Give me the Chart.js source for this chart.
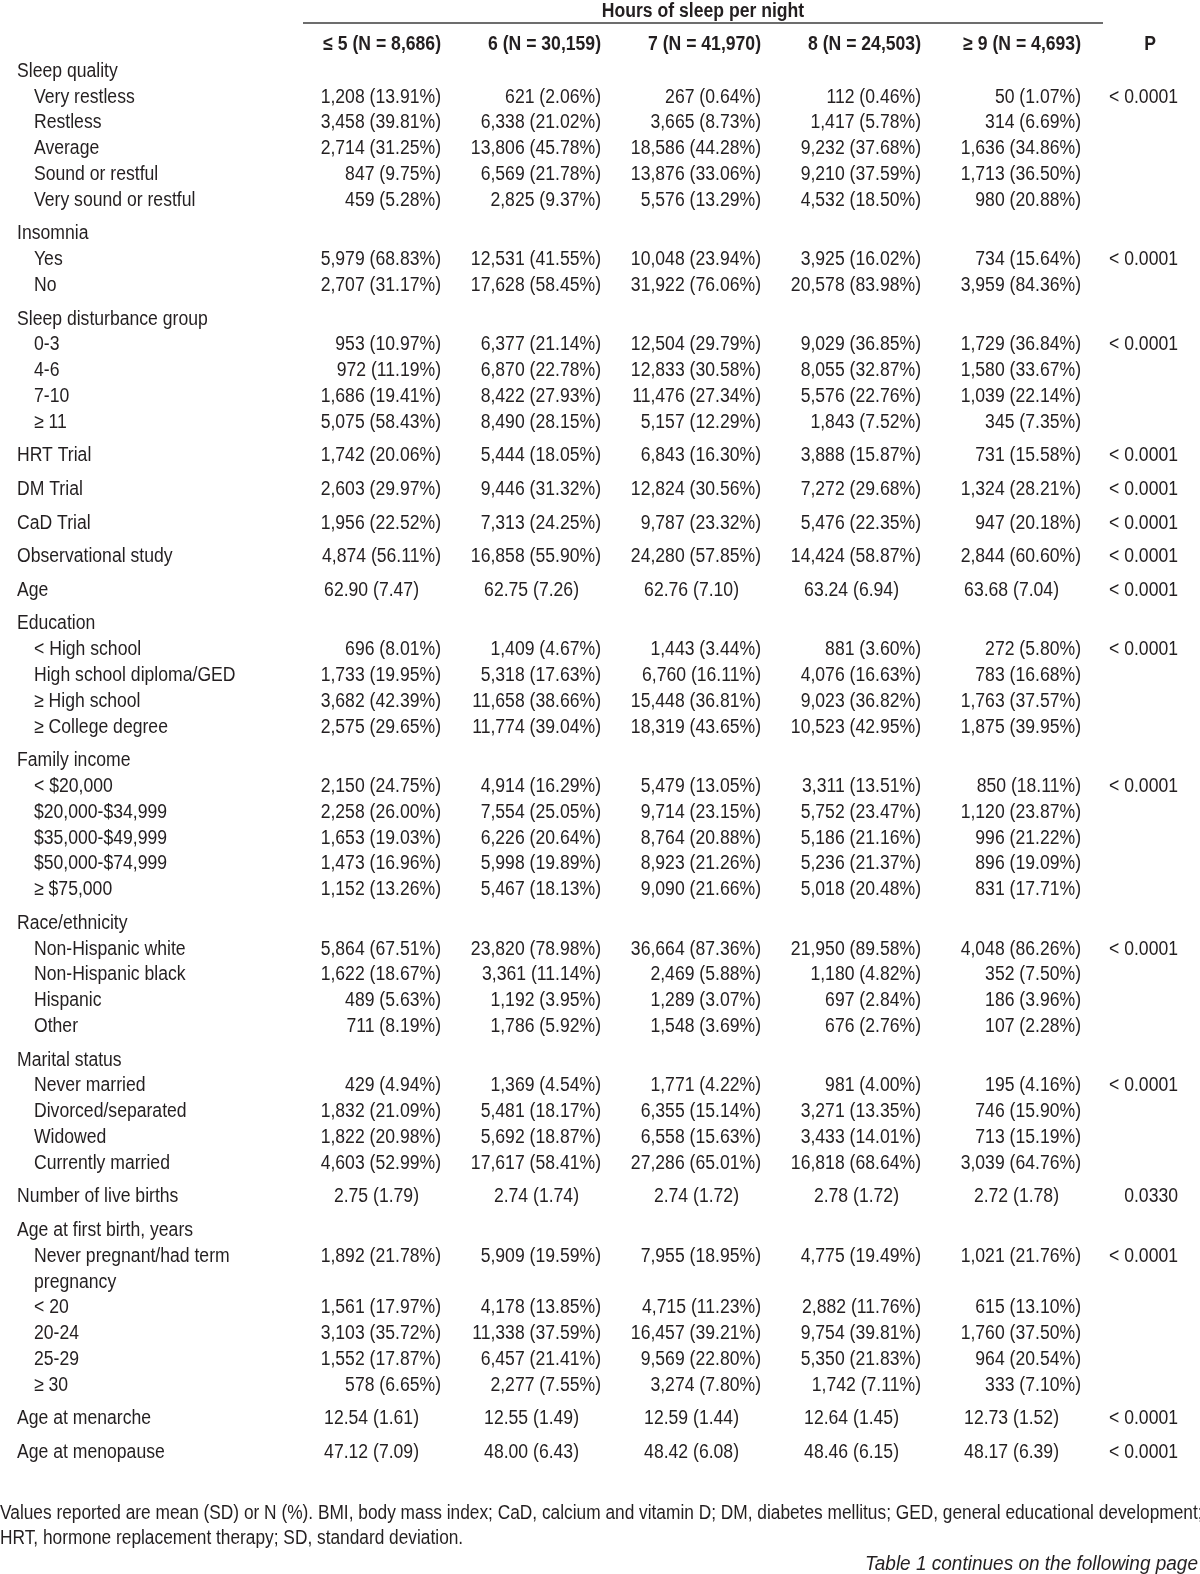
<!DOCTYPE html>
<html>
<head>
<meta charset="utf-8">
<script src="https://cdn.jsdelivr.net/npm/chart.js@4.4.1/dist/chart.umd.min.js"></script>
<style>
  html, body { margin: 0; padding: 0; background: #fff; }
  #wrap { width: 1200px; height: 1574px; }
</style>
</head>
<body>
<div id="wrap"><canvas id="sleep_table" width="1200" height="1574"></canvas></div>
<script>
const spanTitle = 'Hours of sleep per night';
const hourCols = ['≤ 5 (N = 8,686)', '6 (N = 30,159)', '7 (N = 41,970)', '8 (N = 24,503)', '≥ 9 (N = 4,693)'];

const sleepQualityRows = ['Very restless', 'Restless', 'Average', 'Sound or restful', 'Very sound or restful'];
const sleepQualityN = [
    [1208, 621, 267, 112, 50],
    [3458, 6338, 3665, 1417, 314],
    [2714, 13806, 18586, 9232, 1636],
    [847, 6569, 13876, 9210, 1713],
    [459, 2825, 5576, 4532, 980]
];
const sleepQualityPct = [
    [13.91, 2.06, 0.64, 0.46, 1.07],
    [39.81, 21.02, 8.73, 5.78, 6.69],
    [31.25, 45.78, 44.28, 37.68, 34.86],
    [9.75, 21.78, 33.06, 37.59, 36.50],
    [5.28, 9.37, 13.29, 18.50, 20.88]
];

const insomniaRows = ['Yes', 'No'];
const insomniaN = [
    [5979, 12531, 10048, 3925, 734],
    [2707, 17628, 31922, 20578, 3959]
];
const insomniaPct = [
    [68.83, 41.55, 23.94, 16.02, 15.64],
    [31.17, 58.45, 76.06, 83.98, 84.36]
];

const disturbRows = ['0-3', '4-6', '7-10', '≥ 11'];
const disturbN = [
    [953, 6377, 12504, 9029, 1729],
    [972, 6870, 12833, 8055, 1580],
    [1686, 8422, 11476, 5576, 1039],
    [5075, 8490, 5157, 1843, 345]
];
const disturbPct = [
    [10.97, 21.14, 29.79, 36.85, 36.84],
    [11.19, 22.78, 30.58, 32.87, 33.67],
    [19.41, 27.93, 27.34, 22.76, 22.14],
    [58.43, 28.15, 12.29, 7.52, 7.35]
];

const trialRows = ['HRT Trial', 'DM Trial', 'CaD Trial', 'Observational study'];
const trialN = [
    [1742, 5444, 6843, 3888, 731],
    [2603, 9446, 12824, 7272, 1324],
    [1956, 7313, 9787, 5476, 947],
    [4874, 16858, 24280, 14424, 2844]
];
const trialPct = [
    [20.06, 18.05, 16.30, 15.87, 15.58],
    [29.97, 31.32, 30.56, 29.68, 28.21],
    [22.52, 24.25, 23.32, 22.35, 20.18],
    [56.11, 55.90, 57.85, 58.87, 60.60]
];

const ageMean = [62.90, 62.75, 62.76, 63.24, 63.68];
const ageSd = [7.47, 7.26, 7.10, 6.94, 7.04];

const educationRows = ['< High school', 'High school diploma/GED', '≥ High school', '≥ College degree'];
const educationN = [
    [696, 1409, 1443, 881, 272],
    [1733, 5318, 6760, 4076, 783],
    [3682, 11658, 15448, 9023, 1763],
    [2575, 11774, 18319, 10523, 1875]
];
const educationPct = [
    [8.01, 4.67, 3.44, 3.60, 5.80],
    [19.95, 17.63, 16.11, 16.63, 16.68],
    [42.39, 38.66, 36.81, 36.82, 37.57],
    [29.65, 39.04, 43.65, 42.95, 39.95]
];

const incomeRows = ['< $20,000', '$20,000-$34,999', '$35,000-$49,999', '$50,000-$74,999', '≥ $75,000'];
const incomeN = [
    [2150, 4914, 5479, 3311, 850],
    [2258, 7554, 9714, 5752, 1120],
    [1653, 6226, 8764, 5186, 996],
    [1473, 5998, 8923, 5236, 896],
    [1152, 5467, 9090, 5018, 831]
];
const incomePct = [
    [24.75, 16.29, 13.05, 13.51, 18.11],
    [26.00, 25.05, 23.15, 23.47, 23.87],
    [19.03, 20.64, 20.88, 21.16, 21.22],
    [16.96, 19.89, 21.26, 21.37, 19.09],
    [13.26, 18.13, 21.66, 20.48, 17.71]
];

const raceRows = ['Non-Hispanic white', 'Non-Hispanic black', 'Hispanic', 'Other'];
const raceN = [
    [5864, 23820, 36664, 21950, 4048],
    [1622, 3361, 2469, 1180, 352],
    [489, 1192, 1289, 697, 186],
    [711, 1786, 1548, 676, 107]
];
const racePct = [
    [67.51, 78.98, 87.36, 89.58, 86.26],
    [18.67, 11.14, 5.88, 4.82, 7.50],
    [5.63, 3.95, 3.07, 2.84, 3.96],
    [8.19, 5.92, 3.69, 2.76, 2.28]
];

const maritalRows = ['Never married', 'Divorced/separated', 'Widowed', 'Currently married'];
const maritalN = [
    [429, 1369, 1771, 981, 195],
    [1832, 5481, 6355, 3271, 746],
    [1822, 5692, 6558, 3433, 713],
    [4603, 17617, 27286, 16818, 3039]
];
const maritalPct = [
    [4.94, 4.54, 4.22, 4.00, 4.16],
    [21.09, 18.17, 15.14, 13.35, 15.90],
    [20.98, 18.87, 15.63, 14.01, 15.19],
    [52.99, 58.41, 65.01, 68.64, 64.76]
];

const birthsMean = [2.75, 2.74, 2.74, 2.78, 2.72];
const birthsSd = [1.79, 1.74, 1.72, 1.72, 1.78];

const firstBirthRows = ['Never pregnant/had term\npregnancy', '< 20', '20-24', '25-29', '≥ 30'];
const firstBirthN = [
    [1892, 5909, 7955, 4775, 1021],
    [1561, 4178, 4715, 2882, 615],
    [3103, 11338, 16457, 9754, 1760],
    [1552, 6457, 9569, 5350, 964],
    [578, 2277, 3274, 1742, 333]
];
const firstBirthPct = [
    [21.78, 19.59, 18.95, 19.49, 21.76],
    [17.97, 13.85, 11.23, 11.76, 13.10],
    [35.72, 37.59, 39.21, 39.81, 37.50],
    [17.87, 21.41, 22.80, 21.83, 20.54],
    [6.65, 7.55, 7.80, 7.11, 7.10]
];

const menarcheMean = [12.54, 12.55, 12.59, 12.64, 12.73];
const menarcheSd = [1.61, 1.49, 1.44, 1.45, 1.52];
const menopauseMean = [47.12, 48.00, 48.42, 48.46, 48.17];
const menopauseSd = [7.09, 6.43, 6.08, 6.15, 6.39];

const footNotes = [
    'Values reported are mean (SD) or N (%). BMI, body mass index; CaD, calcium and vitamin D; DM, diabetes mellitus; GED, general educational development;',
    'HRT, hormone replacement therapy; SD, standard deviation.'
];
const continuedNote = 'Table 1 continues on the following page';

// ---- layout (px per unit on each scale) ----
const ROW_PX = 25.8;            // one text line
const GAP_ROWS = 7.8 / ROW_PX;  // extra space before each variable
const COL_PX = 160;             // one hours column
const FIRST_ROW_PX = 71.2;      // centre of first body line
const FIRST_EDGE_PX = 441;      // right edge of first hours column
const SQUISH = 0.88;            // the source face is a condensed sans
const INK = '#231f20';

// ---- build table rows from the arrays ----
const fmtCount = (n, p) => n.toLocaleString('en-US') + ' (' + p.toFixed(2) + '%)';
const fmtMean = (m, s) => m.toFixed(2) + ' (' + s.toFixed(2) + ')';

const table = [];
let yPos = 0;
let firstGroup = true;
function newGroup () {
    if (!firstGroup) yPos += GAP_ROWS;
    firstGroup = false;
}
function countGroup (title, labels, nArr, pctArr, p) {
    newGroup();
    table.push({label: [title], indent: 0, y: yPos});
    yPos += 1;
    labels.forEach((lab, r) => {
        const lines = lab.split('\n');
        table.push({label: lines, indent: 1, y: yPos,
            cells: nArr[r].map((n, c) => fmtCount(n, pctArr[r][c])), p: r === 0 ? p : null});
        yPos += lines.length;
    });
}
function countRow (title, nRow, pctRow, p) {
    newGroup();
    table.push({label: [title], indent: 0, y: yPos, cells: nRow.map((n, c) => fmtCount(n, pctRow[c])), p});
    yPos += 1;
}
function meanRow (title, mRow, sdRow, p) {
    newGroup();
    table.push({label: [title], indent: 0, y: yPos, cells: mRow.map((m, c) => fmtMean(m, sdRow[c])), mean: true, p});
    yPos += 1;
}

countGroup('Sleep quality', sleepQualityRows, sleepQualityN, sleepQualityPct, '< 0.0001');
countGroup('Insomnia', insomniaRows, insomniaN, insomniaPct, '< 0.0001');
countGroup('Sleep disturbance group', disturbRows, disturbN, disturbPct, '< 0.0001');
trialRows.forEach((t, i) => countRow(t, trialN[i], trialPct[i], '< 0.0001'));
meanRow('Age', ageMean, ageSd, '< 0.0001');
countGroup('Education', educationRows, educationN, educationPct, '< 0.0001');
countGroup('Family income', incomeRows, incomeN, incomePct, '< 0.0001');
countGroup('Race/ethnicity', raceRows, raceN, racePct, '< 0.0001');
countGroup('Marital status', maritalRows, maritalN, maritalPct, '< 0.0001');
meanRow('Number of live births', birthsMean, birthsSd, '0.0330');
countGroup('Age at first birth, years', firstBirthRows, firstBirthN, firstBirthPct, '< 0.0001');
meanRow('Age at menarche', menarcheMean, menarcheSd, '< 0.0001');
meanRow('Age at menopause', menopauseMean, menopauseSd, '< 0.0001');

// ---- scale ranges, in column units (x) and line units (y) ----
const xMin = -FIRST_EDGE_PX / COL_PX + 1;
const xMax = xMin + 1200 / COL_PX;
const yMin = -FIRST_ROW_PX / ROW_PX;
const yMax = yMin + 1574 / ROW_PX;
const px2x = p => xMin + p / COL_PX;   // layout helpers for the fixed furniture
const px2y = p => yMin + p / ROW_PX;

const MEAN_SHIFT = 22 / COL_PX;

// every text dataset: points placed by the scales, strings carried alongside
function textSet (points, texts, font, align, squish) {
    return {type: 'scatter', data: points, cellText: texts, cellFont: font, cellAlign: align,
        cellSquish: squish || SQUISH, pointRadius: 0, pointHoverRadius: 0};
}

const bodyFont = '20px "Liberation Sans", Arial, sans-serif';
const boldFont = 'bold 20px "Liberation Sans", Arial, sans-serif';
const italicFont = 'italic 20px "Liberation Sans", Arial, sans-serif';

const datasets = [];

// row labels (wrapped labels take one line each)
const labelPts = [], labelTxt = [];
table.forEach(r => {
    r.label.forEach((t, k) => {
        labelPts.push({x: px2x(r.indent ? 34 : 17), y: r.y + k});
        labelTxt.push(t);
    });
});
datasets.push(textSet(labelPts, labelTxt, bodyFont, 'left'));

// the five hours columns
hourCols.forEach((h, c) => {
    const rows = table.filter(r => r.cells);
    datasets.push(textSet(
        rows.map(r => ({x: c + 1 - (r.mean ? MEAN_SHIFT : 0), y: r.y})),
        rows.map(r => r.cells[c]), bodyFont, 'right'));
});

// P column
const pRows = table.filter(r => r.p);
datasets.push(textSet(pRows.map(r => ({x: px2x(1178), y: r.y})), pRows.map(r => r.p), bodyFont, 'right'));

// headings
datasets.push(textSet(hourCols.map((h, c) => ({x: c + 1, y: px2y(44.5)})), hourCols, boldFont, 'right'));
datasets.push(textSet([{x: px2x(1150), y: px2y(44.5)}], ['P'], boldFont, 'center'));
datasets.push(textSet([{x: px2x(703), y: px2y(11)}], [spanTitle], boldFont, 'center'));

// notes under the table
datasets.push(textSet(footNotes.map((t, i) => ({x: px2x(0), y: px2y(1513 + i * 25)})), footNotes, bodyFont, 'left', 0.865));
datasets.push(textSet([{x: px2x(1198), y: px2y(1564)}], [continuedNote], italicFont, 'right', 0.95));

// rule under the spanning heading
datasets.push({type: 'line', data: [{x: px2x(303), y: px2y(23)}, {x: px2x(1103), y: px2y(23)}],
    borderColor: '#6d6d6d', borderWidth: 2, pointRadius: 0, pointHoverRadius: 0});

// draws the strings at the positions the scales gave each point
const cellTextPlugin = {
    id: 'cellText',
    afterDatasetsDraw (chart) {
        const ctx = chart.ctx;
        chart.data.datasets.forEach((ds, i) => {
            if (!ds.cellText) return;
            const meta = chart.getDatasetMeta(i);
            ctx.save();
            ctx.font = ds.cellFont;
            ctx.fillStyle = INK;
            ctx.textAlign = ds.cellAlign;
            ctx.textBaseline = 'middle';
            meta.data.forEach((pt, j) => {
                ctx.save();
                ctx.translate(pt.x, pt.y);
                ctx.scale(ds.cellSquish, 1);
                ctx.fillText(ds.cellText[j], 0, 0);
                ctx.restore();
            });
            ctx.restore();
        });
    }
};

new Chart(document.getElementById('sleep_table'), {
    data: {datasets},
    options: {
        responsive: false,
        animation: false,
        events: [],
        layout: {padding: 0},
        plugins: {legend: {display: false}, tooltip: {enabled: false}},
        scales: {
            x: {type: 'linear', min: xMin, max: xMax, display: false},
            y: {type: 'linear', min: yMin, max: yMax, reverse: true, display: false}
        }
    },
    plugins: [cellTextPlugin]
});
</script>
</body>
</html>
